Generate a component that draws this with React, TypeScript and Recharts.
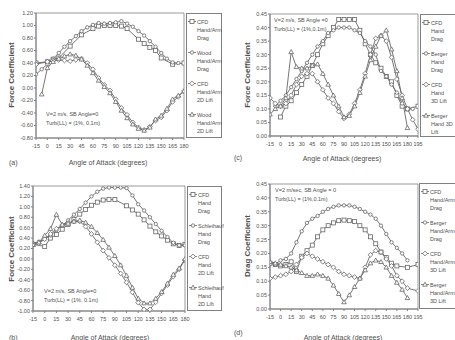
import React from "react";
import { LineChart, Line, XAxis, YAxis, ReferenceArea } from "recharts";

// x ticks
const ticksAB = [-15, 0, 15, 30, 45, 60, 75, 90, 105, 120, 135, 150, 165, 180];
const ticksCD = [-15, 0, 15, 30, 45, 60, 75, 90, 105, 120, 135, 150, 165, 180, 195];

// y ticks
const yTicksA = [-0.8, -0.6, -0.4, -0.2, 0, 0.2, 0.4, 0.6, 0.8, 1.0, 1.2];
const yTicksB = [-1.0, -0.8, -0.6, -0.4, -0.2, 0, 0.2, 0.4, 0.6, 0.8, 1.0, 1.2, 1.4];
const yTicksCD = [0, 0.05, 0.1, 0.15, 0.2, 0.25, 0.3, 0.35, 0.4, 0.45];

// (a)
const aCfdDragAngle = [-15, 0, 7.5, 15, 30, 45, 60, 67.5, 75, 82.5, 90, 97.5, 105, 120, 127.5, 135, 142.5, 150, 165, 180];
const aCfdDragValue = [0.4, 0.42, 0.46, 0.48, 0.67, 0.85, 0.95, 0.99, 1.0, 1.0, 1.0, 0.99, 0.95, 0.78, 0.71, 0.65, 0.6, 0.48, 0.38, 0.4];
const aWoodDragAngle = [-15, -7.5, 0, 7.5, 15, 22.5, 30, 37.5, 45, 52.5, 60, 67.5, 75, 82.5, 90, 97.5, 105, 112.5, 120, 127.5, 135, 142.5, 150, 157.5, 165, 172.5];
const aWoodDragValue = [0.22, 0.3, 0.38, 0.47, 0.56, 0.66, 0.75, 0.83, 0.91, 0.97, 1.01, 1.04, 1.03, 1.04, 1.05, 1.07, 1.03, 0.98, 0.91, 0.84, 0.75, 0.66, 0.56, 0.47, 0.41, 0.4];
const aCfdLiftAngle = [-15, 0, 7.5, 15, 22.5, 30, 37.5, 45, 52.5, 60, 67.5, 75, 82.5, 90, 97.5, 105, 112.5, 120, 127.5, 135, 142.5, 150, 157.5, 165, 172.5, 180];
const aCfdLiftValue = [0.38, 0.42, 0.44, 0.45, 0.44, 0.43, 0.45, 0.47, 0.4, 0.3, 0.16, 0.05, -0.04, -0.18, -0.32, -0.43, -0.55, -0.63, -0.67, -0.62, -0.52, -0.47, -0.36, -0.22, -0.14, -0.05];
const aWoodLiftAngle = [-7.5, 0, 7.5, 15, 22.5, 30, 37.5, 45, 52.5, 60, 67.5, 75, 82.5, 90, 97.5, 105, 112.5, 120, 127.5, 135, 142.5, 150, 157.5, 165, 172.5, 180];
const aWoodLiftValue = [-0.1, 0.32, 0.42, 0.47, 0.51, 0.54, 0.52, 0.46, 0.36, 0.24, 0.12, 0.02, -0.08, -0.22, -0.36, -0.48, -0.58, -0.65, -0.68, -0.63, -0.5, -0.44, -0.33, -0.18, -0.12, -0.05];

// (b)
const bCfdDragAngle = [-15, 0, 7.5, 15, 22.5, 30, 37.5, 45, 52.5, 60, 67.5, 75, 82.5, 90, 105, 112.5, 120, 127.5, 135, 142.5, 150, 157.5, 165, 172.5, 180];
const bCfdDragValue = [0.28, 0.24, 0.4, 0.47, 0.57, 0.66, 0.76, 0.86, 0.95, 1.03, 1.09, 1.13, 1.14, 1.14, 1.02, 0.94, 0.86, 0.75, 0.63, 0.52, 0.44, 0.36, 0.29, 0.26, 0.28];
const bSchDragAngle = [-15, -7.5, 0, 7.5, 15, 22.5, 30, 37.5, 45, 52.5, 60, 67.5, 75, 82.5, 90, 97.5, 105, 112.5, 120, 127.5, 135, 142.5, 150, 157.5, 165, 172.5, 180];
const bSchDragValue = [0.3, 0.33, 0.38, 0.45, 0.55, 0.64, 0.74, 0.85, 0.96, 1.08, 1.2, 1.29, 1.35, 1.37, 1.37, 1.37, 1.36, 1.22, 1.05, 0.93, 0.8, 0.67, 0.54, 0.42, 0.31, 0.26, 0.26];
const bCfdLiftAngle = [-15, -7.5, 0, 7.5, 15, 22.5, 30, 37.5, 45, 52.5, 60, 67.5, 75, 82.5, 90, 97.5, 105, 112.5, 120, 127.5, 135, 142.5, 150, 157.5, 165, 172.5, 180];
const bCfdLiftValue = [0.28, 0.3, 0.38, 0.48, 0.58, 0.65, 0.69, 0.72, 0.72, 0.62, 0.48, 0.32, 0.16, 0.02, -0.12, -0.28, -0.45, -0.64, -0.84, -0.97, -0.97, -0.83, -0.66, -0.5, -0.34, -0.2, -0.02];
const bSchLiftAngle = [-15, -7.5, 0, 7.5, 15, 22.5, 30, 37.5, 45, 52.5, 60, 67.5, 75, 82.5, 90, 97.5, 105, 112.5, 120, 127.5, 135, 142.5, 150, 157.5, 165, 172.5, 180];
const bSchLiftValue = [0.27, 0.32, 0.45, 0.58, 0.85, 0.66, 0.68, 0.72, 0.74, 0.7, 0.62, 0.5, 0.37, 0.22, 0.06, -0.12, -0.32, -0.55, -0.76, -0.85, -0.85, -0.76, -0.63, -0.47, -0.3, -0.18, 0.0];

// (c)
const cCfdDragAngle = [0, 7.5, 15, 22.5, 30, 37.5, 45, 52.5, 60, 67.5, 75, 82.5, 90, 97.5, 105, 112.5, 120, 127.5, 135, 142.5, 150, 157.5, 165, 172.5, 180, 195];
const cCfdDragValue = [0.07, 0.11, 0.13, 0.16, 0.19, 0.22, 0.26, 0.3, 0.34, 0.37, 0.4, 0.43, 0.43, 0.43, 0.43, 0.39, 0.34, 0.3, 0.27, 0.25, 0.22, 0.2, 0.15, 0.11, 0.1, 0.11];
const cBergerDragAngle = [-7.5, 0, 7.5, 15, 22.5, 30, 37.5, 45, 52.5, 60, 67.5, 75, 82.5, 90, 97.5, 105, 112.5, 120, 127.5, 135, 142.5, 150, 157.5, 165, 172.5, 180, 187.5];
const cBergerDragValue = [0.11, 0.13, 0.15, 0.18, 0.21, 0.24, 0.27, 0.3, 0.33, 0.35, 0.38, 0.39, 0.4, 0.4, 0.4, 0.39, 0.38, 0.35, 0.33, 0.3, 0.24, 0.22, 0.19, 0.16, 0.12, 0.1, 0.1];
const cCfdLiftAngle = [-15, -7.5, 0, 7.5, 15, 22.5, 30, 37.5, 45, 52.5, 60, 67.5, 75, 82.5, 90, 97.5, 105, 112.5, 120, 127.5, 135, 142.5, 150, 157.5, 165, 172.5, 180, 187.5, 195];
const cCfdLiftValue = [0.14, 0.12, 0.11, 0.12, 0.15, 0.19, 0.22, 0.23, 0.23, 0.2, 0.17, 0.14, 0.12, 0.09, 0.065, 0.08, 0.12, 0.17, 0.23, 0.3, 0.36, 0.37, 0.35, 0.29, 0.21, 0.15, 0.1, 0.06, 0.025];
const cBergerLiftAngle = [-15, -7.5, 0, 7.5, 15, 22.5, 30, 37.5, 45, 52.5, 60, 67.5, 75, 82.5, 90, 97.5, 105, 112.5, 120, 127.5, 135, 142.5, 150, 157.5, 165, 172.5, 180];
const cBergerLiftValue = [0.08, 0.1, 0.11, 0.14, 0.31, 0.255, 0.25, 0.25, 0.26, 0.265, 0.23, 0.19, 0.15, 0.11, 0.07, 0.075, 0.11, 0.16, 0.22, 0.28, 0.33, 0.37, 0.39, 0.32, 0.24, 0.14, 0.03];

// (d)
const dCfdDragAngle = [-15, -7.5, 0, 7.5, 15, 22.5, 30, 37.5, 45, 52.5, 60, 67.5, 75, 82.5, 90, 97.5, 105, 112.5, 120, 127.5, 135, 142.5, 150, 157.5, 165, 180, 195];
const dCfdDragValue = [0.165, 0.16, 0.155, 0.16, 0.17, 0.135, 0.19, 0.21, 0.23, 0.26, 0.285, 0.3, 0.31, 0.318, 0.32, 0.318, 0.315, 0.3, 0.285, 0.26, 0.235, 0.205, 0.185, 0.165, 0.155, 0.15, 0.16];
const dBergerDragAngle = [-7.5, 0, 7.5, 15, 22.5, 30, 37.5, 45, 52.5, 60, 67.5, 75, 82.5, 90, 97.5, 105, 112.5, 120, 127.5, 135, 142.5, 150, 157.5, 165, 172.5, 180];
const dBergerDragValue = [0.16, 0.175, 0.18, 0.2, 0.24, 0.28, 0.31, 0.325, 0.335, 0.35, 0.36, 0.368, 0.373, 0.373, 0.373, 0.368, 0.36, 0.35, 0.34, 0.325, 0.3, 0.27, 0.24, 0.22, 0.2, 0.175];
const dCfdLiftAngle = [-15, -7.5, 0, 7.5, 15, 22.5, 30, 37.5, 45, 52.5, 60, 67.5, 75, 82.5, 90, 97.5, 105, 112.5, 120, 127.5, 135, 142.5, 150, 157.5, 165, 172.5, 180, 195];
const dCfdLiftValue = [0.11, 0.115, 0.12, 0.125, 0.135, 0.16, 0.185, 0.2, 0.19, 0.18, 0.17, 0.16, 0.15, 0.135, 0.125, 0.12, 0.115, 0.11, 0.15, 0.195, 0.21, 0.205, 0.18, 0.155, 0.12, 0.1, 0.075, 0.065];
const dBergerLiftAngle = [-15, -7.5, 0, 7.5, 15, 22.5, 30, 37.5, 45, 52.5, 60, 67.5, 75, 82.5, 90, 97.5, 105, 112.5, 120, 127.5, 135, 142.5, 150, 157.5, 165, 172.5, 180];
const dBergerLiftValue = [0.17, 0.165, 0.16, 0.155, 0.15, 0.14, 0.13, 0.12, 0.12, 0.125, 0.12, 0.11, 0.085, 0.055, 0.025, 0.05, 0.08, 0.11, 0.14, 0.165, 0.175, 0.17, 0.15, 0.12, 0.095, 0.07, 0.04];

const LINE = "#666666";
const AXIS = "#808080";
const TEXT = "#505050";
const FONT = "'Liberation Sans', Arial, sans-serif";

type Shape = "square" | "circle" | "diamond" | "triangle";

function markerEl(shape: Shape, cx: number, cy: number, key?: string) {
  const common = { fill: "#fff", stroke: LINE, strokeWidth: 0.8 };
  if (shape === "square") return <rect key={key} x={cx - 2} y={cy - 2} width={4} height={4} {...common} />;
  if (shape === "circle") return <circle key={key} cx={cx} cy={cy} r={1.7} {...common} />;
  if (shape === "diamond")
    return <path key={key} d={`M${cx},${cy - 2.4}L${cx + 2.4},${cy}L${cx},${cy + 2.4}L${cx - 2.4},${cy}Z`} {...common} />;
  return <path key={key} d={`M${cx},${cy - 2.3}L${cx + 2.3},${cy + 1.7}L${cx - 2.3},${cy + 1.7}Z`} {...common} />;
}

const dotFor = (shape: Shape) => (props: any) => {
  const { cx, cy, index } = props;
  if (cx == null || cy == null) return <g key={`d-${index}`} />;
  return markerEl(shape, cx, cy, `d-${index}`);
};

interface Series {
  name: string;
  shape: Shape;
  angle: number[];
  value: number[];
}

interface PanelDef {
  id: string;
  plot: [number, number, number, number]; // left, top, right, bottom
  legend: [number, number, number, number];
  xMax: number;
  xTicks: number[];
  yDomain: [number, number];
  yTicks: number[];
  yTitle: string;
  yTitleAt: [number, number];
  xTitleAt: [number, number];
  letter: string;
  letterAt: [number, number];
  note: string[];
  noteAt: [number, number];
  series: Series[];
}

const panels: PanelDef[] = [
  {
    id: "a",
    plot: [36, 13, 184, 138],
    legend: [186, 13, 222, 138],
    xMax: 180,
    xTicks: ticksAB,
    yDomain: [-0.8, 1.2],
    yTicks: yTicksA,
    yTitle: "Force Coefficient",
    yTitleAt: [12, 75],
    xTitleAt: [108, 163],
    letter: "(a)",
    letterAt: [9, 163],
    note: ["V=2 m/s, SB Angle=0", "Turb(LL) = (1%, 0.1m)"],
    noteAt: [46, 110],
    series: [
      { name: "CFD\nHand/Arm\nDrag", shape: "square", angle: aCfdDragAngle, value: aCfdDragValue },
      { name: "Wood\nHand/Arm\nDrag", shape: "circle", angle: aWoodDragAngle, value: aWoodDragValue },
      { name: "CFD\nHand/Arm\n2D Lift", shape: "diamond", angle: aCfdLiftAngle, value: aCfdLiftValue },
      { name: "Wood\nHand/Arm\n2D Lift", shape: "triangle", angle: aWoodLiftAngle, value: aWoodLiftValue },
    ],
  },
  {
    id: "c",
    plot: [270, 14, 418, 136],
    legend: [420, 14, 458, 137],
    xMax: 195,
    xTicks: ticksCD,
    yDomain: [0, 0.45],
    yTicks: yTicksCD,
    yTitle: "Force Coefficient",
    yTitleAt: [248, 75],
    xTitleAt: [342, 159],
    letter: "(c)",
    letterAt: [234, 158],
    note: ["V=2 m/s, SB Angle =0", "Turb(LL) = (1%,0.1m)"],
    noteAt: [274, 16],
    series: [
      { name: "CFD\nHand\nDrag", shape: "square", angle: cCfdDragAngle, value: cCfdDragValue },
      { name: "Berger\nHand\nDrag", shape: "circle", angle: cBergerDragAngle, value: cBergerDragValue },
      { name: "CFD\nHand\n3D Lift", shape: "diamond", angle: cCfdLiftAngle, value: cCfdLiftValue },
      { name: "Berger\nHand 3D\nLift", shape: "triangle", angle: cBergerLiftAngle, value: cBergerLiftValue },
    ],
  },
  {
    id: "b",
    plot: [33, 186, 185, 311],
    legend: [187, 186, 222, 311],
    xMax: 180,
    xTicks: ticksAB,
    yDomain: [-1.0, 1.4],
    yTicks: yTicksB,
    yTitle: "Force Coefficient",
    yTitleAt: [12, 249],
    xTitleAt: [110, 338],
    letter: "(b)",
    letterAt: [9, 338],
    note: ["V=2 m/s, SB Angle=0", "Turb(LL) = (1%, 0.1m)"],
    noteAt: [44, 287],
    series: [
      { name: "CFD\nHand\nDrag", shape: "square", angle: bCfdDragAngle, value: bCfdDragValue },
      { name: "Schleihauf\nHand\nDrag", shape: "circle", angle: bSchDragAngle, value: bSchDragValue },
      { name: "CFD\nHand\n2D Lift", shape: "diamond", angle: bCfdLiftAngle, value: bCfdLiftValue },
      { name: "Schleihauf\nHand\n2D Lift", shape: "triangle", angle: bSchLiftAngle, value: bSchLiftValue },
    ],
  },
  {
    id: "d",
    plot: [270, 184, 418, 309],
    legend: [419, 183, 458, 309],
    xMax: 195,
    xTicks: ticksCD,
    yDomain: [0, 0.45],
    yTicks: yTicksCD,
    yTitle: "Drag Coefficient",
    yTitleAt: [248, 246],
    xTitleAt: [343, 338],
    letter: "(d)",
    letterAt: [234, 333],
    note: ["V=2 m/sec, SB Angle = 0", "Turb(LL) = (1%,0.1m)"],
    noteAt: [275, 186],
    series: [
      { name: "CFD\nHand/Arm\nDrag", shape: "square", angle: dCfdDragAngle, value: dCfdDragValue },
      { name: "Berger\nHand/Arm\nDrag", shape: "circle", angle: dBergerDragAngle, value: dBergerDragValue },
      { name: "CFD\nHand/Arm\n3D Lift", shape: "diamond", angle: dCfdLiftAngle, value: dCfdLiftValue },
      { name: "Berger\nHand/Arm\n3D Lift", shape: "triangle", angle: dBergerLiftAngle, value: dBergerLiftValue },
    ],
  },
];

const YW = 30;
const XH = 20;
const PAD = 6;

function Panel({ p }: { p: PanelDef }) {
  const [L, T, R, B] = p.plot;
  const [lx, ly, lr, lb] = p.legend;
  const tickStyle = { fontSize: 5.5, fill: TEXT, fontFamily: FONT };
  return (
    <>
      <div style={{ position: "absolute", left: L - YW, top: T - PAD }}>
        <LineChart
          width={R - L + YW + PAD}
          height={B - T + PAD + XH}
          margin={{ top: PAD, right: PAD, left: 0, bottom: 0 }}
        >
          <XAxis
            type="number"
            dataKey="x"
            domain={[-15, p.xMax]}
            ticks={p.xTicks}
            interval={0}
            allowDataOverflow
            height={XH}
            tick={tickStyle}
            tickSize={2}
            tickMargin={4}
            stroke={AXIS}
          />
          <YAxis
            type="number"
            dataKey="y"
            domain={p.yDomain}
            ticks={p.yTicks}
            interval={0}
            allowDataOverflow
            width={YW}
            tick={tickStyle}
            tickSize={2}
            tickMargin={1}
            stroke={AXIS}
            tickFormatter={(v: number) => v.toFixed(2)}
          />
          <ReferenceArea
            x1={-15}
            x2={p.xMax}
            y1={p.yDomain[0]}
            y2={p.yDomain[1]}
            fill="none"
            stroke={AXIS}
            strokeWidth={0.8}
          />
          {p.series.map((s) => (
            <Line
              key={s.name}
              name={s.name}
              data={s.angle.map((a, i) => ({ x: a, y: s.value[i] }))}
              dataKey="y"
              stroke={LINE}
              strokeWidth={0.9}
              dot={dotFor(s.shape)}
              activeDot={false}
              isAnimationActive={false}
            />
          ))}
        </LineChart>
      </div>

      <div
        style={{
          position: "absolute",
          left: lx,
          top: ly,
          width: lr - lx,
          height: lb - ly,
          border: `1px solid ${AXIS}`,
          boxSizing: "border-box",
        }}
      >
        {p.series.map((s, i) => (
          <div key={s.name} style={{ position: "absolute", left: 1, top: 4 + i * 31 }}>
            <svg width={9} height={7} style={{ position: "absolute", left: 0, top: 0 }}>
              <line x1={0} y1={3.5} x2={8} y2={3.5} stroke={LINE} strokeWidth={0.8} />
              {markerEl(s.shape, 4, 3.5)}
            </svg>
            <div
              style={{
                position: "absolute",
                left: 9,
                top: 0,
                fontSize: 5.5,
                lineHeight: "8px",
                color: TEXT,
                fontFamily: FONT,
                whiteSpace: "pre",
              }}
            >
              {s.name}
            </div>
          </div>
        ))}
      </div>

      <div
        style={{
          position: "absolute",
          left: p.yTitleAt[0] - 60,
          top: p.yTitleAt[1] - 5,
          width: 120,
          height: 10,
          lineHeight: "10px",
          textAlign: "center",
          transform: "rotate(-90deg)",
          fontSize: 8,
          fontWeight: "bold",
          color: TEXT,
          fontFamily: FONT,
        }}
      >
        {p.yTitle}
      </div>

      <div
        style={{
          position: "absolute",
          left: p.xTitleAt[0] - 60,
          top: p.xTitleAt[1] - 5,
          width: 120,
          lineHeight: "10px",
          textAlign: "center",
          fontSize: 7,
          color: TEXT,
          fontFamily: FONT,
        }}
      >
        Angle of Attack (degrees)
      </div>

      <div
        style={{
          position: "absolute",
          left: p.letterAt[0],
          top: p.letterAt[1] - 5,
          lineHeight: "10px",
          fontSize: 7,
          color: TEXT,
          fontFamily: FONT,
        }}
      >
        {p.letter}
      </div>

      <div
        style={{
          position: "absolute",
          left: p.noteAt[0],
          top: p.noteAt[1],
          fontSize: 5.5,
          lineHeight: "9px",
          color: TEXT,
          fontFamily: FONT,
          whiteSpace: "pre",
        }}
      >
        {p.note.join("\n")}
      </div>
    </>
  );
}

export default function App() {
  return (
    <div
      style={{
        position: "absolute",
        left: 0,
        top: 0,
        width: 455,
        height: 340,
        overflow: "hidden",
        background: "#fff",
      }}
    >
      {panels.map((p) => (
        <Panel key={p.id} p={p} />
      ))}
    </div>
  );
}
